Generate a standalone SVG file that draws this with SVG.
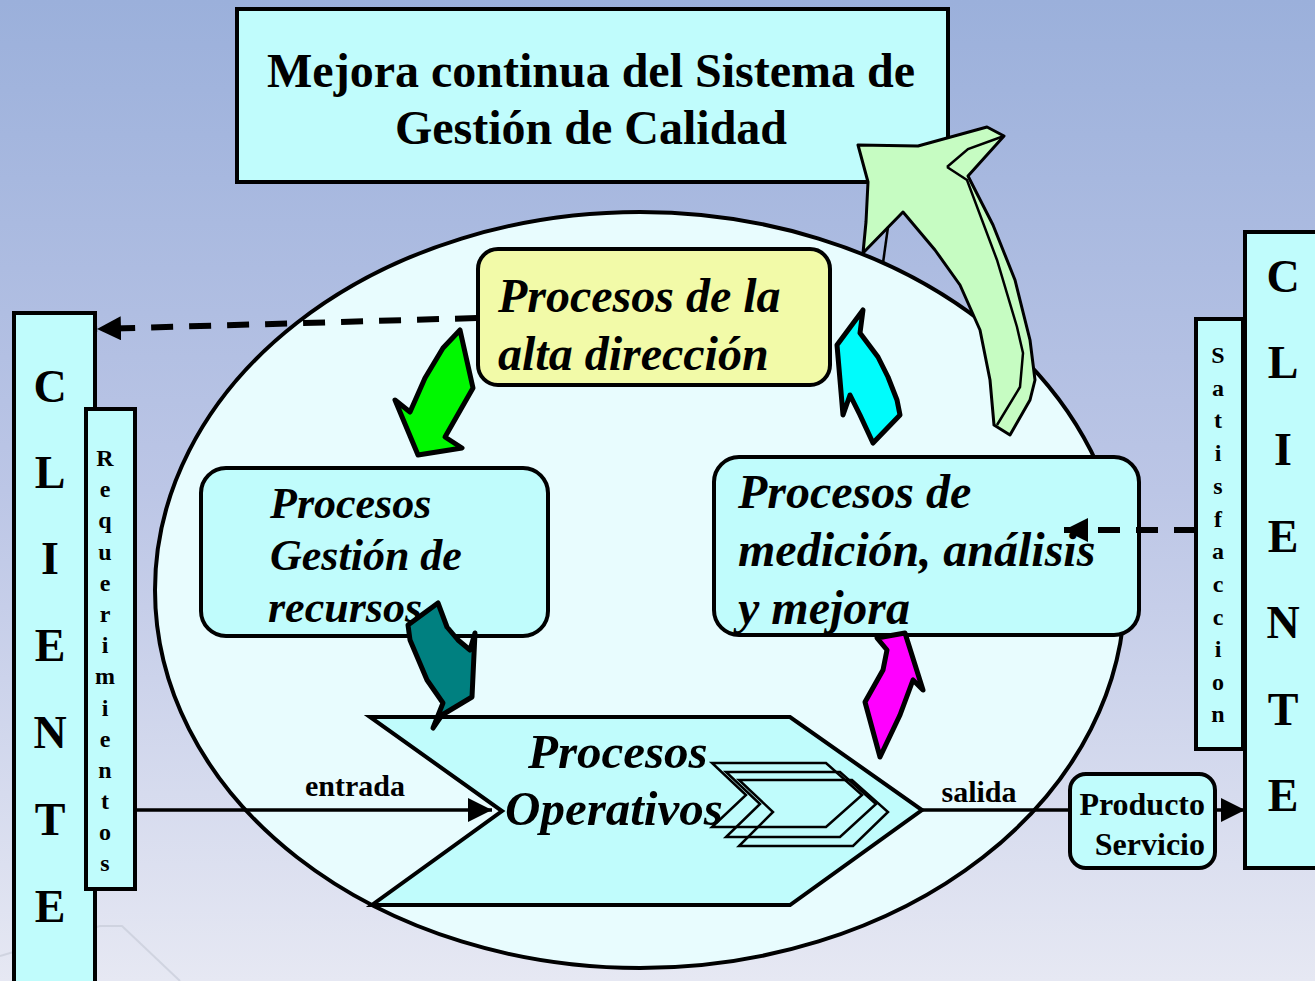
<svg xmlns="http://www.w3.org/2000/svg" width="1315" height="981" viewBox="0 0 1315 981">
  <defs>
    <linearGradient id="bg" x1="0" y1="0" x2="0" y2="1">
      <stop offset="0" stop-color="#9bb0db"/>
      <stop offset="0.5" stop-color="#bcc6e6"/>
      <stop offset="1" stop-color="#e6e8f3"/>
    </linearGradient>
    <marker id="ah" viewBox="0 0 10 10" refX="10" refY="5" markerWidth="24" markerHeight="24" markerUnits="userSpaceOnUse" orient="auto">
      <path d="M0,0 L10,5 L0,10 z" fill="#000"/>
    </marker>
  </defs>
  <style>
    .box { fill: #c0fcfc; stroke: #000; stroke-width: 4; }
    .t { font-family: "Liberation Serif", "Times New Roman", serif; font-weight: bold; fill: #000; }
    .ti { font-family: "Liberation Serif", "Times New Roman", serif; font-weight: bold; font-style: italic; fill: #000; }
    .sarrow { stroke: #000; stroke-width: 5; stroke-linejoin: round; }
    .chev { fill: none; stroke: #000; stroke-width: 2.5; }
    .conn { stroke: #000; fill: none; }
  </style>

  <rect x="0" y="0" width="1315" height="981" fill="url(#bg)"/>
  <polyline points="0,956 100,926 122,926 180,981" fill="none" stroke="#c8ccd8" stroke-width="2" opacity="0.7"/>

  <g id="ellipse">
    <ellipse cx="640" cy="590" rx="485" ry="378" fill="#e8fcfe" stroke="#000" stroke-width="4"/>
  </g>

  <g id="titulo">
    <rect class="box" x="237" y="9" width="711" height="173"/>
    <text class="t" x="591" y="87" font-size="48" text-anchor="middle">Mejora continua del Sistema de</text>
    <text class="t" x="591" y="144" font-size="48" text-anchor="middle">Gestión de Calidad</text>
  </g>

  <g id="flecha-mejora">
    <path d="M858,145 L918,146 L987,127 L1004,136 L968,176 L993,225 L1015,280 L1030,340 L1035,380 L1030,400 L1010,435 L994,425 L990,380 L980,330 L960,285 L935,250 L903,212 L863,253 L866,222 L868,182 Z" fill="#c6fcc2" stroke="#000" stroke-width="3" stroke-linejoin="round"/>
    <path d="M947,167 L967,180 L997,260 L1017,327 L1023,353 L1020,387 L997,425" fill="none" stroke="#000" stroke-width="2.5"/>
    <path d="M947,167 L968,149 L1004,136" fill="none" stroke="#000" stroke-width="2.5"/>
    <path d="M888,227 L883,263" fill="none" stroke="#000" stroke-width="2.5"/>
  </g>

  <g id="alta-direccion">
    <rect x="478" y="249" width="352" height="136" rx="20" fill="#f2faa8" stroke="#000" stroke-width="4"/>
    <text class="ti" x="498" y="312" font-size="48">Procesos de la</text>
    <text class="ti" x="498" y="370" font-size="48">alta dirección</text>
  </g>

  <g id="gestion-recursos">
    <rect class="box" x="201" y="468" width="347" height="168" rx="25"/>
    <text class="ti" x="270" y="518" font-size="44">Procesos</text>
    <text class="ti" x="270" y="570" font-size="44">Gestión de</text>
    <text class="ti" x="268" y="622" font-size="44">recursos</text>
  </g>

  <g id="medicion">
    <rect class="box" x="714" y="457" width="425" height="178" rx="25"/>
    <text class="ti" x="738" y="508" font-size="48">Procesos de</text>
    <text class="ti" x="738" y="566" font-size="48">medición, análisis</text>
    <text class="ti" x="738" y="624" font-size="48">y mejora</text>
  </g>

  <g id="operativos">
    <path d="M370,717 L790,717 L922,810 L790,905 L372,905 L502,811 Z" fill="#c0fcfc" stroke="#000" stroke-width="4" stroke-linejoin="miter"/>
    <text class="ti" x="528" y="768" font-size="49">Procesos</text>
    <text class="ti" x="505" y="825" font-size="49">Operativos</text>
    <path class="chev" d="M712,763 L826,763 L862,795 L826,827 L712,827 L746,795 Z"/>
    <path class="chev" d="M726,772 L840,772 L876,804 L840,837 L726,837 L760,804 Z"/>
    <path class="chev" d="M739,780 L852,780 L888,812 L853,846 L739,846 L773,812 Z"/>
  </g>

  <g id="flechas-ciclo">
    <path class="sarrow" fill="#00f800" d="M460,330 L473,388 L445,437 L462,448 L418,455 L395,400 L410,412 L425,378 L443,348 Z"/>
    <path class="sarrow" fill="#00fcfc" d="M863,310 L860,333 L878,357 L888,377 L897,400 L900,415 L873,443 L860,415 L850,395 L843,415 L837,345 Z"/>
    <path class="sarrow" fill="#008080" d="M408,625 L438,603 L447,627 L458,640 L470,650 L475,633 L472,697 L442,715 L433,728 L443,703 L427,680 L410,640 Z"/>
    <path class="sarrow" fill="#ff00ff" d="M877,638 L905,633 L923,690 L913,680 L900,715 L880,757 L865,702 L883,670 L887,650 Z"/>
  </g>

  <g id="cliente-izq">
    <rect class="box" x="14" y="313" width="81" height="680"/>
    <g class="t" font-size="46" text-anchor="middle">
      <text x="50" y="402">C</text>
      <text x="50" y="488">L</text>
      <text x="50" y="574">I</text>
      <text x="50" y="661">E</text>
      <text x="50" y="748">N</text>
      <text x="50" y="835">T</text>
      <text x="50" y="922">E</text>
    </g>
  </g>

  <g id="requerimientos">
    <rect class="box" x="86" y="409" width="49" height="480"/>
    <g class="t" font-size="24" text-anchor="middle">
      <text x="105" y="466">R</text>
      <text x="105" y="497">e</text>
      <text x="105" y="528">q</text>
      <text x="105" y="560">u</text>
      <text x="105" y="591">e</text>
      <text x="105" y="622">r</text>
      <text x="105" y="653">i</text>
      <text x="105" y="684">m</text>
      <text x="105" y="716">i</text>
      <text x="105" y="747">e</text>
      <text x="105" y="778">n</text>
      <text x="105" y="809">t</text>
      <text x="105" y="840">o</text>
      <text x="105" y="871">s</text>
    </g>
  </g>

  <g id="cliente-der">
    <rect class="box" x="1245" y="232" width="80" height="636"/>
    <g class="t" font-size="46" text-anchor="middle">
      <text x="1283" y="292">C</text>
      <text x="1283" y="378">L</text>
      <text x="1283" y="465">I</text>
      <text x="1283" y="552">E</text>
      <text x="1283" y="638">N</text>
      <text x="1283" y="725">T</text>
      <text x="1283" y="811">E</text>
    </g>
  </g>

  <g id="satisfaccion">
    <rect class="box" x="1196" y="319" width="47" height="430"/>
    <g class="t" font-size="24" text-anchor="middle">
      <text x="1218" y="363">S</text>
      <text x="1218" y="396">a</text>
      <text x="1218" y="428">t</text>
      <text x="1218" y="461">i</text>
      <text x="1218" y="494">s</text>
      <text x="1218" y="527">f</text>
      <text x="1218" y="559">a</text>
      <text x="1218" y="592">c</text>
      <text x="1218" y="625">c</text>
      <text x="1218" y="657">i</text>
      <text x="1218" y="690">o</text>
      <text x="1218" y="722">n</text>
    </g>
  </g>

  <g id="producto">
    <rect class="box" x="1070" y="774" width="145" height="94" rx="16"/>
    <text class="t" x="1205" y="815" font-size="32" text-anchor="end">Producto</text>
    <text class="t" x="1205" y="855" font-size="32" text-anchor="end">Servicio</text>
  </g>

  <g id="conectores">
    <path class="conn" d="M477,318 L97,329" stroke-width="6" stroke-dasharray="22 16" marker-end="url(#ah)"/>
    <path class="conn" d="M1196,530 L1064,530" stroke-width="6" stroke-dasharray="22 16" marker-end="url(#ah)"/>
    <path class="conn" d="M135,810 L492,810" stroke-width="3.5" marker-end="url(#ah)"/>
    <path class="conn" d="M922,810 L1070,810" stroke-width="3.5"/>
    <path class="conn" d="M1215,810 L1245,810" stroke-width="3.5" marker-end="url(#ah)"/>
    <text class="t" x="355" y="796" font-size="30" text-anchor="middle">entrada</text>
    <text class="t" x="979" y="802" font-size="30" text-anchor="middle">salida</text>
  </g>
</svg>
